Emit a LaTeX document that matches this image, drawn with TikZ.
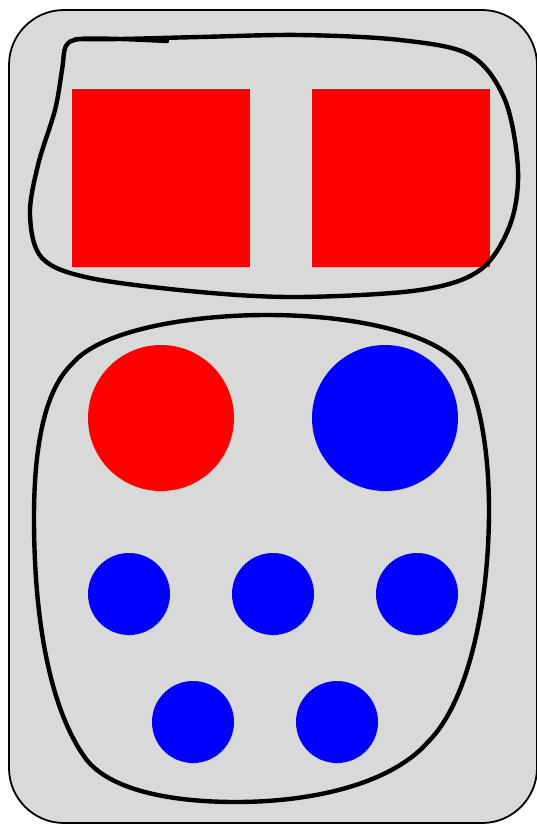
\documentclass[tikz,border=0pt]{standalone}
\usetikzlibrary{positioning}

\definecolor{boxgray}{HTML}{D9D9D9}
\definecolor{itemred}{HTML}{FF0000}
\definecolor{itemblue}{HTML}{0000FF}

\tikzset{
    frame/.style={draw=black, line width=1.8pt, fill=boxgray, rounded corners=55pt},
    lasso/.style={draw=black, line width=4.4pt, line join=round, line cap=round},
    sqitem/.style={rectangle, fill=itemred, inner sep=0pt, minimum size=178pt},
    bigdot/.style={circle, inner sep=0pt, minimum size=146pt},
    smalldot/.style={circle, fill=itemblue, inner sep=0pt, minimum size=82pt}
}

\begin{document}
\begin{tikzpicture}[x=1pt, y=-1pt]

    \useasboundingbox (0,0) rectangle (537,825);

    % ==========================================
    % OUTER BOX
    % ==========================================
    \draw[frame] (9,10) rectangle (537,823);

    % ==========================================
    % TOP GROUP: two red squares
    % ==========================================
    \node[sqitem] (sqL) at (161,177.5) {};
    \node[sqitem] (sqR) at (400.5,177.5) {};

    % Hand drawn loop round the squares (open, overlapping at the top)
    \draw[lasso] plot[smooth, tension=0.55] coordinates {
        (167,41) (120,39) (80,39) (66,46) (62,70) (55,110) (38,165)
        (30,215) (42,258) (90,278) (200,292) (300,297) (420,290)
        (480,270) (510,225) (518,170) (505,100) (470,55) (400,40)
        (300,35) (200,37) (120,39) (76,39)};

    % ==========================================
    % BOTTOM GROUP: circles
    % ==========================================
    \node[bigdot, fill=itemred]  (bigR) at (161,418) {};
    \node[bigdot, fill=itemblue] (bigB) at (385,418) {};

    % Small blue circles, first row
    \node[smalldot] (s1) at (129,594) {};
    \node[smalldot] (s2) at (273,594) {};
    \node[smalldot] (s3) at (417,594) {};

    % Small blue circles, second row
    \node[smalldot] (s4) at (193,722) {};
    \node[smalldot] (s5) at (337,722) {};

    % Loop round the circles
    \coordinate (lT) at (267,315);   % top
    \coordinate (lTR) at (459,364);  % upper right bend
    \coordinate (lR) at (489,510);   % right side
    \coordinate (lBR) at (428,742);  % lower right bend
    \coordinate (lB) at (236,802);   % bottom
    \coordinate (lBL) at (86,759);   % lower left bend
    \coordinate (lL) at (34,518);    % left side
    \coordinate (lTL) at (72,364);   % upper left bend

    \draw[lasso] (lT)
        .. controls (360,315) and (435,335) .. (lTR)
        .. controls (476,384) and (489,440) .. (lR)
        .. controls (489,600) and (470,700) .. (lBR)
        .. controls (390,785) and (310,802) .. (lB)
        .. controls (170,802) and (110,790) .. (lBL)
        .. controls (50,710) and (34,620) .. (lL)
        .. controls (34,430) and (50,385) .. (lTL)
        .. controls (100,330) and (190,315) .. (lT) -- cycle;

\end{tikzpicture}
\end{document}
